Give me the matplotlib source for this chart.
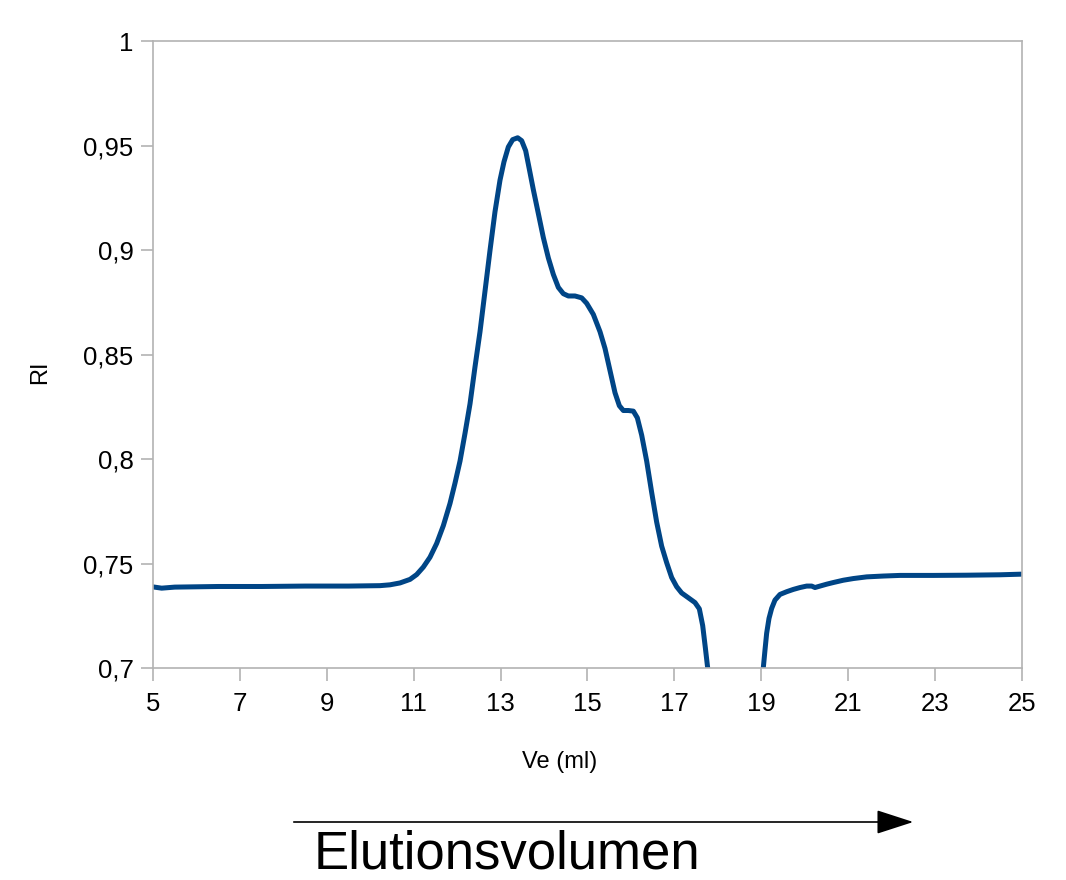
import matplotlib
matplotlib.use("Agg")
import matplotlib.pyplot as plt
from matplotlib.patches import FancyArrowPatch
from matplotlib.ticker import FuncFormatter

plt.rcParams["font.family"] = ["Liberation Sans", "DejaVu Sans"]

ve = [5.0, 5.2, 5.5, 6.5, 7.5, 8.5, 9.5, 10.224, 10.455, 10.685, 10.915,
      11.068, 11.222, 11.375, 11.529, 11.682, 11.835, 11.950, 12.066, 12.181,
      12.296, 12.411, 12.526, 12.641, 12.756, 12.871, 12.986, 13.078, 13.178,
      13.278, 13.393, 13.485, 13.577, 13.661, 13.753, 13.868, 13.983, 14.099,
      14.214, 14.329, 14.444, 14.559, 14.712, 14.866, 14.981, 15.134, 15.288,
      15.403, 15.518, 15.633, 15.733, 15.825, 15.940, 16.055, 16.147, 16.247,
      16.362, 16.477, 16.592, 16.707, 16.822, 16.937, 17.052, 17.167, 17.321,
      17.474, 17.574, 17.651, 17.712, 17.766, 17.9, 18.4, 18.95,
      19.047, 19.085, 19.123, 19.177, 19.238, 19.315, 19.430, 19.584, 19.737,
      19.891, 20.044, 20.159, 20.236, 20.351, 20.504, 20.658, 20.888, 21.118,
      21.425, 21.808, 22.192, 22.959, 23.726, 24.493, 24.992]
ri = [0.7388, 0.7382, 0.7387, 0.739, 0.739, 0.7392, 0.7392, 0.7394, 0.7398,
      0.7407, 0.7424, 0.7447, 0.7483, 0.7530, 0.7596, 0.7681, 0.7787, 0.7884,
      0.7990, 0.8123, 0.8264, 0.8441, 0.8609, 0.8803, 0.8998, 0.9183, 0.9334,
      0.9422, 0.9493, 0.9528, 0.9537, 0.9523, 0.9475, 0.9387, 0.9289, 0.9175,
      0.9060, 0.8962, 0.8883, 0.8821, 0.8791, 0.8780, 0.8780, 0.8771, 0.8745,
      0.8692, 0.8609, 0.8529, 0.8423, 0.8317, 0.8255, 0.8232, 0.8232, 0.8229,
      0.8197, 0.8114, 0.7990, 0.7840, 0.7698, 0.7583, 0.7504, 0.7433, 0.7389,
      0.7359, 0.7336, 0.7313, 0.7283, 0.7203, 0.7097, 0.7000, 0.66, 0.60,
      0.66, 0.7003, 0.7086, 0.7166, 0.7237, 0.7285, 0.7325, 0.7352, 0.7365,
      0.7376, 0.7385, 0.7392, 0.7392, 0.7385, 0.7392, 0.7401, 0.7409, 0.7420,
      0.7428, 0.7436, 0.7440, 0.7443, 0.7443, 0.7444, 0.7446, 0.7449]

x_ticks = [5, 7, 9, 11, 13, 15, 17, 19, 21, 23, 25]
y_ticks = [0.7, 0.75, 0.8, 0.85, 0.9, 0.95, 1.0]

fig = plt.figure(figsize=(10.66, 8.8), dpi=100)
ax = fig.add_axes([153 / 1066, 1 - 668 / 880, (1022 - 153) / 1066, (668 - 41) / 880])

ax.plot(ve, ri, color="#004586", linewidth=3.6, solid_capstyle="round",
        solid_joinstyle="round")

ax.set_xlim(5, 25)
ax.set_ylim(0.7, 1.0)
ax.set_xticks(x_ticks)
ax.set_yticks(y_ticks)
ax.yaxis.set_major_formatter(FuncFormatter(lambda v, p: ("%g" % v).replace(".", ",")))

for s in ax.spines.values():
    s.set_color("#b3b3b3")
    s.set_linewidth(1.2)
ax.tick_params(axis="both", colors="#b3b3b3", labelcolor="black", labelsize=18.5,
               length=9, width=1.2, direction="out")
ax.tick_params(axis="x", pad=8)
ax.tick_params(axis="y", pad=5)

fig.text(560 / 1066, 1 - 762 / 880, "Ve (ml)", fontsize=17, ha="center", va="center")
fig.text(40 / 1066, 1 - 372 / 880, "RI", fontsize=17, ha="center", va="center",
         rotation=90)

# Pfeil fuer die Elutionsrichtung
fig.patches.append(FancyArrowPatch(
    (291 / 1066, 1 - 822 / 880), (916 / 1066, 1 - 822 / 880),
    transform=fig.transFigure, arrowstyle="-|>,head_length=1.45,head_width=0.47",
    mutation_scale=16, color="black", linewidth=1.2))
fig.text(314 / 1066, 1 - 868 / 880, "Elutionsvolumen", fontsize=38,
         ha="left", va="baseline")

fig.savefig("out.png", dpi=100)
